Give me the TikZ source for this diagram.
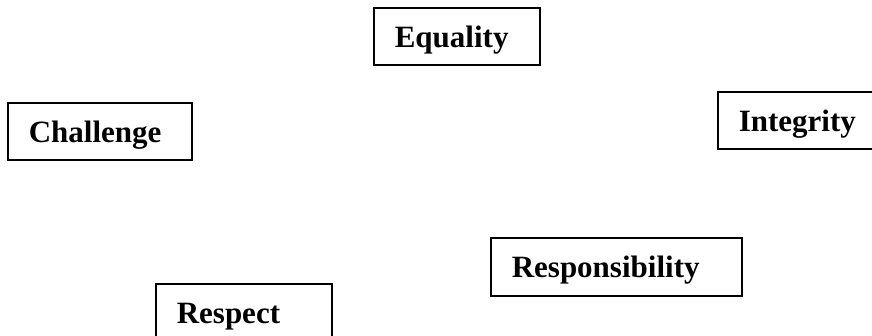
\documentclass[tikz,border=0pt]{standalone}
\usepackage{fontspec}
\setmainfont{Liberation Serif}
\usepackage{tikz}
\usetikzlibrary{positioning}

\begin{document}
\begin{tikzpicture}[x=0.5pt, y=-0.5pt] %Values
	\tikzstyle{valuebox} = [draw, line width=0.8pt, anchor=north west, align=left, inner xsep=10.5pt, inner ysep=0pt, text height=20pt, text depth=8.5pt, font=\fontsize{15.5}{18}\selectfont\bfseries]
	\useasboundingbox (0,0) rectangle (872,336);
	\node[valuebox, text width=62pt] (Equality) at (373,7) {Equality};
	\node[valuebox, text width=71pt] (Challenge) at (7,102) {Challenge};
	\node[valuebox, text width=58pt] (Integrity) at (717,91) {Integrity};
	\node[valuebox, text width=104.5pt, text depth=9pt] (Responsibility) at (490,237) {Responsibility};
	\node[valuebox, text width=67pt] (Respect) at (155,283) {Respect};
\end{tikzpicture}
\end{document}
